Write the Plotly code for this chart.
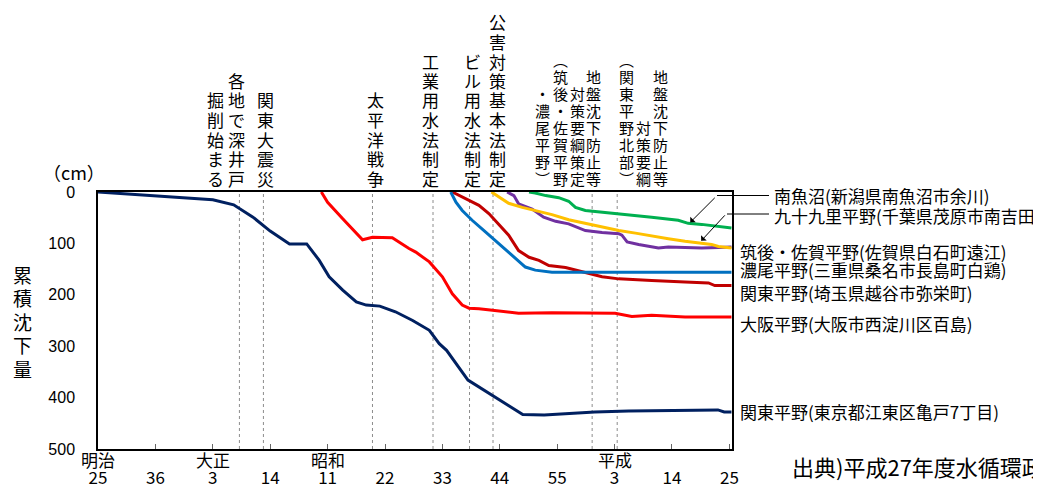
import plotly.graph_objects as go

# --- data (cumulative subsidence, cm) ---
koto_year = [1892, 1914, 1918, 1921.7, 1925, 1928.7, 1932, 1934.4, 1936.3, 1938.9, 1941.5, 1943.4, 1946,
             1949, 1952.3, 1955.5, 1957.4, 1958.8, 1962.9, 1966.5, 1969.4, 1973.4, 1977.5, 1981.6,
             1987.2, 1993.7, 2000, 2005.9, 2010.8, 2012, 2013.4]
koto = [0, 15, 25, 49, 76, 101, 101, 133, 165, 191, 214, 220, 222,
        233, 250, 269, 295, 308, 366, 389, 408, 433, 434, 431,
        428, 426, 425, 424, 424, 428, 428]

osaka_year = [1934.8, 1936, 1938.9, 1942.7, 1944.6, 1948.4, 1951.6, 1952.9, 1955.5, 1958, 1959.9, 1961.8,
              1963.1, 1965, 1967.6, 1972.6, 1979, 1985.4, 1991.1, 1994.3, 1998.1, 2004.5, 2013.4]
osaka = [0, 20, 52, 93, 88, 89, 110, 117, 136, 165, 198, 220,
         226, 227, 230, 236, 235, 236, 236, 242, 240, 243, 243]

koshigaya_year = [1959.9, 1962.5, 1965, 1966.9, 1968.8, 1970.7, 1972.6, 1974.6, 1976.5, 1978.4, 1981.6,
                  1985.4, 1988.6, 1991.8, 1995, 1998.1, 2004.5, 2009, 2010.2, 2013.4]
koshigaya = [0, 13, 26, 42, 62, 84, 114, 127, 133, 143, 147,
             156, 165, 169, 171, 172, 175, 177, 182, 182]

nobi_year = [1959.6, 1960.6, 1961.8, 1963.7, 1966.3, 1968.8, 1970.7, 1972.6, 1973.9, 1975.8, 1979,
             1985.4, 1991.8, 1998.1, 2013.4]
nobi = [0, 20, 36, 55, 78, 101, 117, 136, 146, 152, 156,
        156, 156, 156, 156]

chikugo_year = [1970.4, 1971.7, 1972.6, 1975.2, 1977.4, 1979.7, 1982.2, 1985.4, 1988.6, 1991.8, 1992.4,
                1993.4, 1995.6, 1998.1, 1999.4, 2001.3, 2004.5, 2007.7, 2010.9, 2013.4]
chikugo = [0, 7, 23, 33, 49, 57, 62, 75, 79, 81, 84,
           97, 102, 107, 109, 107, 108, 109, 108, 107]

kujukuri_year = [1967.4, 1968.8, 1970.7, 1973.3, 1975.8, 1979, 1982.2, 1985.4, 1988.6, 1991.8, 1995,
                 1998.1, 2001.3, 2004.5, 2007.7, 2009.6, 2010.9, 2013.4]
kujukuri = [0, 10, 22, 30, 36, 44, 54, 61, 68, 75, 80,
            86, 91, 96, 99, 102, 106, 109]

uonuma_year = [1974.6, 1975.8, 1977.8, 1980.3, 1982.2, 1983.5, 1985.4, 1988.6, 1991.8, 1998.1, 2003.2,
               2005.1, 2007.7, 2010.9, 2013.4]
uonuma = [0, 2, 7, 11, 18, 30, 36, 39, 42, 49, 55,
          61, 63, 67, 70]

event_years = [1919.1, 1923.7, 1944.6, 1956.2, 1963.2, 1967.7, 1986.7, 1991.5]

tick_years = [1892, 1903, 1914, 1925, 1936, 1947, 1958, 1969, 1980, 1991, 2002, 2013]
tick_text = ['25', '36', '3', '14', '11', '22', '33', '44', '55', '3', '14', '25']
era_years = [1892, 1914, 1936, 1991]
era_names = ['明治', '大正', '昭和', '平成']

FONT = "Noto Sans CJK JP"

series = [
    ("関東平野(東京都江東区亀戸7丁目)", koto_year, koto, "#002060"),
    ("大阪平野(大阪市西淀川区百島)", osaka_year, osaka, "#FF0000"),
    ("関東平野(埼玉県越谷市弥栄町)", koshigaya_year, koshigaya, "#C00000"),
    ("濃尾平野(三重県桑名市長島町白鶏)", nobi_year, nobi, "#0070C0"),
    ("筑後・佐賀平野(佐賀県白石町遠江)", chikugo_year, chikugo, "#7030A0"),
    ("九十九里平野(千葉県茂原市南吉田)", kujukuri_year, kujukuri, "#FFC000"),
    ("南魚沼(新潟県南魚沼市余川)", uonuma_year, uonuma, "#00B050"),
]

fig = go.Figure()
for name, xs, ys, col in series:
    fig.add_trace(go.Scatter(x=xs, y=ys, mode="lines", name=name,
                             line=dict(color=col, width=3), hoverinfo="x+y+name"))

# page body adds an 8px offset, so the figure is 8px smaller and shifted
OFF = 8
W, H = 1041 - OFF, 489 - OFF
L, T = 98 - OFF, 192 - OFF
PW, PH = 634, 257
R, B = W - L - PW, H - T - PH


def px(x):
    # window pixel -> paper x
    return (x - OFF - L) / PW


def py(y):
    # window pixel -> paper y
    return (H - B - (y - OFF)) / PH


annotations = []
shapes = []

# event markers
for yr in event_years:
    shapes.append(dict(type="line", xref="x", yref="paper", x0=yr, x1=yr, y0=0, y1=1,
                       line=dict(color="#8c8c8c", width=1, dash="dot"), layer="below"))

# vertical event captions (one char per annotation)
event_cols_big = [
    (215, "掘削始まる"), (236, "各地で深井戸"), (265, "関東大震災"), (375, "太平洋戦争"),
    (430, "工業用水法制定"), (472, "ビル用水法制定"), (497, "公害対策基本法制定"),
]
event_cols_small = [
    (542, "・濃尾平野︶"), (560, "︵筑後・佐賀平野"), (577, "対策要綱策定"), (593, "地盤沈下防止等"),
    (626, "︵関東平野北部︶"), (643, "対策要綱"), (660, "地盤沈下防止等"),
]


def vtext(x, text, size, pitch, bottom):
    n = len(text)
    for i, ch in enumerate(text):
        cy = bottom - (n - 1 - i) * pitch
        annotations.append(dict(text=ch, xref="paper", yref="paper", x=px(x), y=py(cy),
                                xanchor="center", yanchor="middle", showarrow=False,
                                font=dict(family=FONT, size=size, color="black")))


for x, t in event_cols_big:
    vtext(x, t, 17, 19.5, 178)
for x, t in event_cols_small:
    vtext(x, t, 15, 17, 178)

# y title
vtext(22, "累積沈下量", 19, 23.5, 368)
annotations.append(dict(text="（cm）", xref="paper", yref="paper", x=px(74), y=py(172),
                        xanchor="center", yanchor="middle", showarrow=False,
                        font=dict(family=FONT, size=18, color="black")))

# era names under ticks
for yr, nm in zip(era_years, era_names):
    annotations.append(dict(text=nm, xref="x", yref="paper", x=yr, y=py(459),
                            xanchor="center", yanchor="middle", showarrow=False,
                            font=dict(family=FONT, size=17, color="black")))

# series labels on the right
label_pos = {
    "南魚沼(新潟県南魚沼市余川)": (772, 195),
    "九十九里平野(千葉県茂原市南吉田)": (772, 215),
    "筑後・佐賀平野(佐賀県白石町遠江)": (738, 251),
    "濃尾平野(三重県桑名市長島町白鶏)": (738, 269),
    "関東平野(埼玉県越谷市弥栄町)": (738, 292),
    "大阪平野(大阪市西淀川区百島)": (738, 323),
    "関東平野(東京都江東区亀戸7丁目)": (738, 411),
}
for name, (x, y) in label_pos.items():
    annotations.append(dict(text=name, xref="paper", yref="paper", x=px(x), y=py(y),
                            xanchor="left", yanchor="middle", showarrow=False,
                            font=dict(family=FONT, size=17, color="black")))

# leader lines + arrows
shapes.append(dict(type="line", xref="paper", yref="paper", x0=px(717), x1=px(769),
                   y0=py(195.5), y1=py(195.5), line=dict(color="black", width=1)))
shapes.append(dict(type="line", xref="paper", yref="paper", x0=px(727), x1=px(769),
                   y0=py(214), y1=py(214), line=dict(color="black", width=1)))
annotations.append(dict(text="", x=2005.5, y=59, xref="x", yref="y", ax=26, ay=-26,
                        showarrow=True, arrowhead=1, arrowsize=1.3, arrowwidth=1, arrowcolor="black"))
annotations.append(dict(text="", x=2007.6, y=95, xref="x", yref="y", ax=25, ay=-27,
                        showarrow=True, arrowhead=1, arrowsize=1.3, arrowwidth=1, arrowcolor="black"))

# source note (runs off the right edge, as in the original)
annotations.append(dict(text="出典)平成27年度水循環政策", xref="paper", yref="paper", x=px(790), y=py(466),
                        xanchor="left", yanchor="middle", showarrow=False,
                        font=dict(family=FONT, size=22, color="black")))

# top grey rule
shapes.append(dict(type="line", xref="paper", yref="paper", x0=px(87), x1=px(880),
                   y0=py(1.5), y1=py(1.5), line=dict(color="#7f7f7f", width=2)))

fig.update_layout(
    width=W, height=H,
    margin=dict(l=L, r=R, t=T, b=B),
    paper_bgcolor="white", plot_bgcolor="white",
    showlegend=False,
    font=dict(family=FONT, color="black"),
    xaxis=dict(range=[1892, 2013.5], tickvals=tick_years, ticktext=tick_text,
               showgrid=False, zeroline=False, showline=True, mirror=True,
               linecolor="black", linewidth=1.5, ticks="inside", ticklen=5,
               tickcolor="#666", tickfont=dict(family=FONT, size=17),
               ticklabelstandoff=13, automargin=False),
    yaxis=dict(range=[500, 0], tickvals=[0, 100, 200, 300, 400, 500],
               showgrid=False, zeroline=False, showline=True, mirror=True,
               linecolor="black", linewidth=1.5, ticks="",
               tickfont=dict(family="Liberation Sans", size=16), ticklabelstandoff=18,
               automargin=False),
    shapes=shapes,
    annotations=annotations,
)

fig.write_html("out.html")
